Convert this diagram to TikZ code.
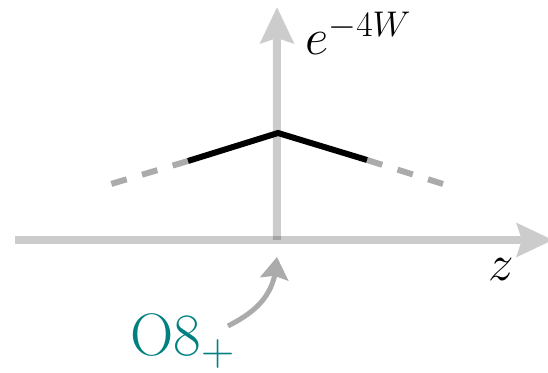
\documentclass[tikz,border=0pt]{standalone}
\usepackage{fix-cm}
\usetikzlibrary{arrows.meta,bending}
\begin{document}
\begin{tikzpicture}[x=0.5pt,y=-0.5pt,
  axisline/.style={line width=4pt, draw=black!20, -{Stealth[length=18pt,width=16.5pt,inset=2.5pt,fill=black!20]}},
  vaxis/.style={line width=4pt, draw=black, -{Stealth[length=18pt,width=16.5pt,inset=2.5pt]}},
  solidseg/.style={line width=3pt, black, line cap=butt, line join=miter},
  dashseg/.style={line width=3pt, black!33, line cap=butt, dash pattern=on 8pt off 8pt},
  curvarrow/.style={line width=2.5pt, black!33, -{Stealth[length=11pt,width=14pt,inset=1.5pt]}},
  mathlbl/.style={inner sep=0pt, font=\fontsize{25.5}{30}\selectfont},
  oplbl/.style={inner sep=0pt, text=teal, font=\fontsize{30}{36}\selectfont}]
\useasboundingbox (0,0) rectangle (548,373);
\coordinate (xs) at (15,240);
\coordinate (xe) at (553,240);
\coordinate (o) at (277,240);
\coordinate (ye) at (277,7);
\coordinate (pk) at (278,133);
\coordinate (bl) at (188,161);
\coordinate (br) at (367,160);
\coordinate (dl) at (111,184);
\coordinate (dr) at (443,184);
\coordinate (ct) at (228,326);
\coordinate (at) at (277,257);
% axes
\draw[axisline] (xs) -- (xe);
\begin{scope}[transparency group, opacity=0.2]
\draw[vaxis] (o) -- (ye);
\end{scope}
% curve
\draw[dashseg] (bl) -- (dl);
\draw[dashseg] (br) -- (dr);
\draw[solidseg] (bl) -- (pk) -- (br);
% labels
\node[mathlbl, anchor=base west] (ylab) at (305,55) {$e^{-4W}$};
\node[mathlbl, anchor=base] (xlab) at (501,281) {$z$};
\node[oplbl, anchor=base west] (olab) at (130,356) {O8\raisebox{-4.75pt}{\fontsize{23}{28}\selectfont +}};
% pointer
\draw[curvarrow] (ct) .. controls (255,312) and (276,296) .. (at);
\end{tikzpicture}
\end{document}
